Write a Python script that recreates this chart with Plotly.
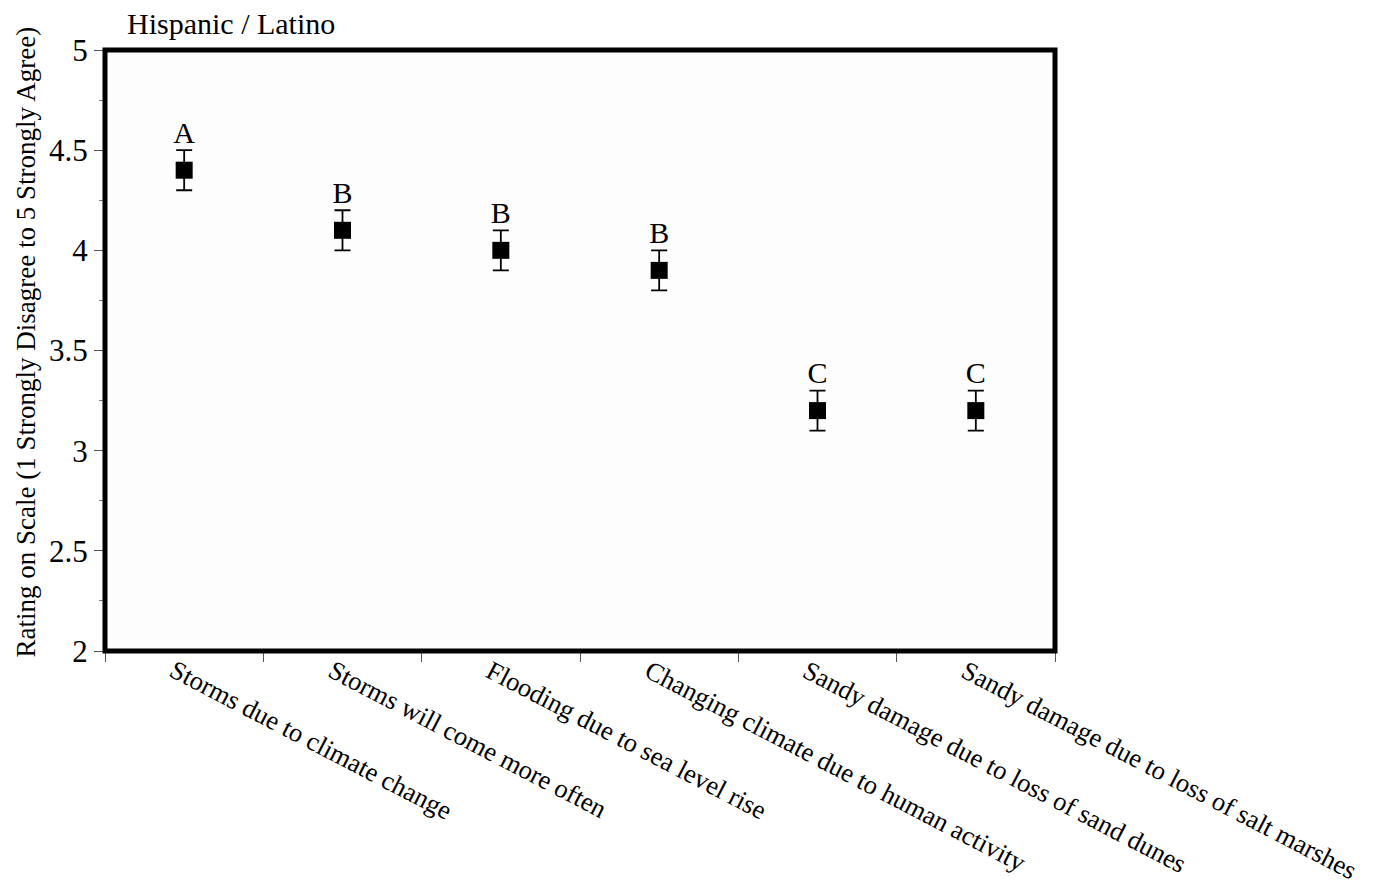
import plotly.graph_objects as go

categories = [
    "Storms due to climate change",
    "Storms will come more often",
    "Flooding due to sea level rise",
    "Changing climate due to human activity",
    "Sandy damage due to loss of sand dunes",
    "Sandy damage due to loss of salt marshes",
]
means = [4.4, 4.1, 4.0, 3.9, 3.2, 3.2]
errors = [0.1, 0.1, 0.1, 0.1, 0.1, 0.1]
letters = ["A", "B", "B", "B", "C", "C"]
y_ticks = [2, 2.5, 3, 3.5, 4, 4.5, 5]
y_tick_labels = ["2", "2.5", "3", "3.5", "4", "4.5", "5"]

xpos = [i + 0.5 for i in range(len(categories))]
FONT = "Liberation Serif, Times New Roman, serif"

fig = go.Figure()
fig.add_trace(go.Scatter(
    x=xpos, y=means, mode="markers",
    marker=dict(symbol="square", size=17, color="black"),
    error_y=dict(type="data", array=errors, visible=True, color="black",
                 thickness=1.8, width=8),
    showlegend=False, hoverinfo="skip",
))
fig.add_trace(go.Scatter(
    x=xpos, y=[m + e for m, e in zip(means, errors)], mode="text",
    text=letters, textposition="top center",
    textfont=dict(family=FONT, size=30, color="black"),
    showlegend=False, hoverinfo="skip",
))

for x, c in zip(xpos, categories):
    fig.add_annotation(
        x=x, y=0, xref="x", yref="paper", text=c, showarrow=False,
        textangle=27.5, xanchor="left", yanchor="top",
        xshift=-22, yshift=-1,
        font=dict(family=FONT, size=26.5, color="black"),
    )

fig.add_annotation(
    x=0, y=1, xref="paper", yref="paper", text="Hispanic / Latino",
    showarrow=False, xanchor="left", yanchor="bottom", xshift=20, yshift=8,
    font=dict(family=FONT, size=30, color="black"),
)
fig.add_annotation(
    x=0, y=0.5, xref="paper", yref="paper",
    text="Rating on Scale (1 Strongly Disagree to 5 Strongly Agree)",
    showarrow=False, textangle=-90, xanchor="center", yanchor="middle",
    xshift=-80, yshift=8,
    font=dict(family=FONT, size=27, color="black"),
)

fig.add_shape(type="rect", xref="paper", yref="paper", x0=0, y0=0, x1=1, y1=1,
              line=dict(color="black", width=5), layer="above")

fig.update_layout(
    width=1376, height=884,
    margin=dict(l=97, r=329, t=42, b=241),
    paper_bgcolor="white", plot_bgcolor="#fdfdfd",
    font=dict(family=FONT, size=27, color="black"),
    xaxis=dict(
        range=[0, 6], tickmode="array", tickvals=list(range(7)),
        showticklabels=False, ticks="outside", ticklen=10, tickcolor="#555",
        tickwidth=1, showgrid=False, zeroline=False, showline=False,
    ),
    yaxis=dict(
        range=[2, 5], tickmode="array", tickvals=y_ticks, ticktext=y_tick_labels,
        ticks="outside", ticklen=10, tickcolor="#555", tickwidth=1,
        minor=dict(dtick=0.25, ticks="outside", ticklen=5, tickcolor="#777"),
        showgrid=False, zeroline=False, showline=False,
        tickfont=dict(family=FONT, size=31, color="black"),
    ),
)

fig.write_html("out.html")
